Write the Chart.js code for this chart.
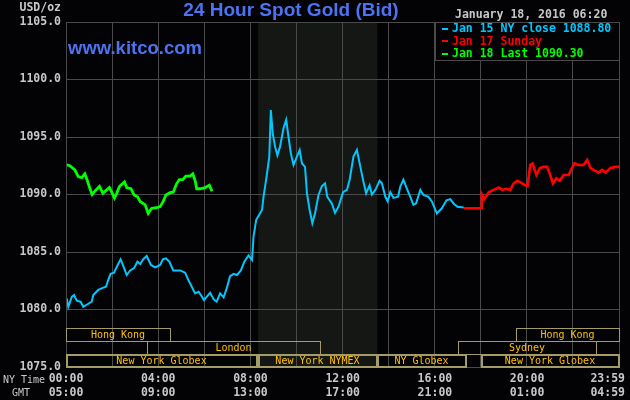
<!DOCTYPE html>
<html>
<head>
<meta charset="utf-8">
<script src="https://cdn.jsdelivr.net/npm/chart.js@4/dist/chart.umd.min.js"></script>
<style>
  html, body { margin: 0; padding: 0; background: #030305; }
  canvas { display: block; }
</style>
</head>
<body>
<canvas id="gold" width="630" height="400"></canvas>
<script>
// minutes after midnight NY time, price in USD/oz
const cyanTimes = [2, 6, 15, 21, 28, 38, 45, 58, 67, 71, 84, 97, 104, 110, 116, 125, 132, 142, 149, 158, 167, 177, 186, 193, 201, 210, 221, 232, 245, 252, 260, 269, 279, 297, 310, 318, 327, 336, 345, 351, 359, 366, 375, 384, 392, 401, 410, 417, 427, 436, 445, 455, 464, 475, 484, 488, 495, 505, 510, 514, 523, 529, 533, 538, 544, 550, 557, 566, 573, 579, 585, 592, 601, 608, 614, 622, 627, 634, 641, 648, 657, 666, 674, 680, 692, 700, 709, 721, 731, 738, 748, 757, 766, 774, 781, 790, 796, 805, 816, 822, 831, 837, 844, 852, 864, 870, 878, 887, 896, 904, 911, 922, 930, 943, 952, 965, 978, 990, 1000, 1009, 1019, 1035];
const cyanPrices = [1080.97, 1080.24, 1081.1, 1081.26, 1080.77, 1080.68, 1080.24, 1080.5, 1080.68, 1081.26, 1081.7, 1081.9, 1081.98, 1082.57, 1083.1, 1083.2, 1083.7, 1084.36, 1083.8, 1083.0, 1083.4, 1083.6, 1084.16, 1083.96, 1084.37, 1084.65, 1083.87, 1083.67, 1083.87, 1084.37, 1084.45, 1084.16, 1083.4, 1083.4, 1083.2, 1082.57, 1082.0, 1081.4, 1081.55, 1081.26, 1080.83, 1081.1, 1081.46, 1080.9, 1080.68, 1081.4, 1081.06, 1081.7, 1082.9, 1083.1, 1083.0, 1083.4, 1084.16, 1084.7, 1084.3, 1086.33, 1087.8, 1088.36, 1088.65, 1089.8, 1091.8, 1093.3, 1097.35, 1095.3, 1094.16, 1093.4, 1094.16, 1095.76, 1096.5, 1095.0, 1093.6, 1092.57, 1093.3, 1093.87, 1092.7, 1092.4, 1090.1, 1088.65, 1087.5, 1088.36, 1089.96, 1090.74, 1090.97, 1089.8, 1089.2, 1088.4, 1088.94, 1090.2, 1090.4, 1091.26, 1093.3, 1093.87, 1092.4, 1091.1, 1090.1, 1090.8, 1090.0, 1090.4, 1091.2, 1090.97, 1089.8, 1089.4, 1090.2, 1089.7, 1089.8, 1090.7, 1091.3, 1090.5, 1089.8, 1089.1, 1089.24, 1090.4, 1089.96, 1089.8, 1089.4, 1088.36, 1088.8, 1089.5, 1089.6, 1089.2, 1088.94, 1088.87];

const redTimes = [1035, 1081, 1082, 1088, 1100, 1113, 1126, 1135, 1146, 1156, 1165, 1175, 1187, 1195, 1201, 1208, 1214, 1224, 1233, 1243, 1252, 1259, 1267, 1276, 1285, 1295, 1308, 1314, 1323, 1334, 1347, 1356, 1365, 1375, 1386, 1395, 1404, 1417, 1430, 1439];
const redPrices = [1088.8, 1088.8, 1090.0, 1089.6, 1090.2, 1090.4, 1090.6, 1090.4, 1090.5, 1090.4, 1090.97, 1091.2, 1090.97, 1090.8, 1090.74, 1092.57, 1092.7, 1091.7, 1092.3, 1092.4, 1092.4, 1091.8, 1090.97, 1091.4, 1091.2, 1091.7, 1091.7, 1092.13, 1092.7, 1092.57, 1092.57, 1093.0, 1092.3, 1092.1, 1091.9, 1092.13, 1091.9, 1092.3, 1092.4, 1092.4];

const greenTimes = [2, 10, 23, 32, 41, 49, 55, 62, 68, 78, 87, 96, 106, 113, 119, 126, 132, 139, 152, 158, 169, 177, 186, 193, 206, 214, 223, 236, 245, 253, 260, 271, 279, 288, 295, 304, 312, 323, 330, 336, 340, 349, 362, 373, 380];
const greenPrices = [1092.57, 1092.5, 1092.13, 1091.55, 1091.46, 1091.8, 1091.26, 1090.54, 1090.0, 1090.4, 1090.7, 1090.1, 1090.4, 1090.6, 1090.2, 1089.7, 1090.1, 1090.7, 1091.1, 1090.6, 1090.5, 1089.96, 1089.8, 1089.4, 1089.1, 1088.36, 1088.8, 1088.85, 1088.94, 1089.4, 1089.96, 1090.16, 1090.2, 1090.95, 1091.3, 1091.3, 1091.6, 1091.6, 1091.8, 1091.2, 1090.5, 1090.5, 1090.6, 1090.8, 1090.3];

const seriesLabels = ['Jan 15 NY close 1088.80', 'Jan 17 Sunday', 'Jan 18 Last 1090.30'];

// trading sessions (minutes, NY time) and the row they sit in
const sessionNames = ['Hong Kong', 'London', 'New York Globex', 'New York NYMEX', 'NY Globex', 'Sydney', 'New York Globex', 'Hong Kong'];
const sessionStart = [0, 210, 0, 500, 810, 1020, 1080, 1170];
const sessionEnd = [270, 660, 497, 810, 1042, 1380, 1439, 1439];
const sessionRow = [0, 1, 2, 2, 2, 1, 2, 0];

const nymexStart = 500, nymexEnd = 810;

const tickTimes = [0, 240, 480, 720, 960, 1200, 1439];
const nyTimeLabels = ['00:00', '04:00', '08:00', '12:00', '16:00', '20:00', '23:59'];
const gmtLabels = ['05:00', '09:00', '13:00', '17:00', '21:00', '01:00', '04:59'];

const stampText = 'January 18, 2016 06:20';

const MONO = 'bold 11.5px "DejaVu Sans Mono", monospace';
const MONO_SMALL = '10px "DejaVu Sans Mono", monospace';
const GRID = '#4a4a4a';

function pts(ts, vs) {
    return ts.map((t, i) => ({ x: t, y: vs[i] }));
}

const kitcoDeco = {
    id: 'kitcoDeco',
    beforeDraw(chart) {
        const ctx = chart.ctx, a = chart.chartArea, xs = chart.scales.x;
        ctx.save();
        ctx.fillStyle = '#030305';
        ctx.fillRect(0, 0, chart.width, chart.height);
        const x0 = xs.getPixelForValue(nymexStart), x1 = xs.getPixelForValue(nymexEnd);
        ctx.fillStyle = '#141714';
        ctx.fillRect(x0, a.top, x1 - x0, a.bottom - a.top);
        ctx.restore();
    },
    afterDraw(chart) {
        const ctx = chart.ctx, a = chart.chartArea, xs = chart.scales.x;
        ctx.save();

        // plot frame
        ctx.strokeStyle = GRID;
        ctx.lineWidth = 1;
        ctx.strokeRect(Math.round(a.left) + 0.5, Math.round(a.top) + 0.5, Math.round(a.right - a.left), Math.round(a.bottom - a.top));

        // sessions
        const rowH = 13;
        ctx.font = MONO_SMALL;
        ctx.textAlign = 'center';
        ctx.textBaseline = 'middle';
        sessionNames.forEach((name, i) => {
            const r = sessionRow[i];
            const top = a.bottom - rowH * (3 - r);
            const l = Math.round(xs.getPixelForValue(sessionStart[i]));
            const rr = Math.round(xs.getPixelForValue(sessionEnd[i]));
            ctx.strokeStyle = '#a39c68';
            ctx.lineWidth = r === 2 ? 2 : 1;
            const off = r === 2 ? 1 : 0.5;
            ctx.strokeRect(l + off, Math.round(top) + off, rr - l - off * 2 + 1, rowH - off * 2 + 1);
            ctx.fillStyle = '#ffc000';
            ctx.fillText(name, (l + rr) / 2, top + rowH / 2 + 1);
        });

        // x labels, two rows
        ctx.font = MONO;
        ctx.fillStyle = '#c8c8c8';
        tickTimes.forEach((t, i) => {
            const w = ctx.measureText(nyTimeLabels[i]).width;
            const px = Math.min(xs.getPixelForValue(t), chart.width - w / 2 - 5);
            ctx.fillText(nyTimeLabels[i], px, 379);
            ctx.fillText(gmtLabels[i], px, 393);
        });
        ctx.font = MONO_SMALL;
        ctx.textAlign = 'left';
        ctx.fillText('NY Time', 3, 380);
        ctx.fillText('GMT', 12, 393);

        ctx.font = MONO;
        ctx.textAlign = 'right';
        ctx.fillText('USD/oz', 61, 8);

        // time stamp
        ctx.textAlign = 'left';
        ctx.fillText(stampText, 455, 15);

        // legend box
        ctx.fillStyle = '#030305';
        ctx.fillRect(436, 23, 183, 38);
        ctx.strokeStyle = GRID;
        ctx.lineWidth = 1;
        ctx.strokeRect(435.5, 22.5, 184, 38);
        chart.data.datasets.forEach((ds, i) => {
            const y = 29 + i * 12.3;
            ctx.fillStyle = ds.borderColor;
            ctx.fillRect(442, Math.round(y) - 1, 6, 2);
            ctx.fillText(ds.label, 452, y + 0.5);
        });

        // title + site
        ctx.fillStyle = '#4d73f2';
        ctx.textAlign = 'center';
        ctx.font = 'bold 19px "Liberation Sans", Arial, sans-serif';
        ctx.fillText('24 Hour Spot Gold (Bid)', 291, 11);
        ctx.textAlign = 'left';
        ctx.font = 'bold 18.5px "Liberation Sans", Arial, sans-serif';
        ctx.fillText('www.kitco.com', 68, 49);

        ctx.restore();
    }
};

new Chart(document.getElementById('gold'), {
    type: 'line',
    data: {
        datasets: [
            { label: seriesLabels[0], data: pts(cyanTimes, cyanPrices), borderColor: '#00c8ff', borderWidth: 2 },
            { label: seriesLabels[1], data: pts(redTimes, redPrices), borderColor: '#ff0000', borderWidth: 2.6 },
            { label: seriesLabels[2], data: pts(greenTimes, greenPrices), borderColor: '#00ff00', borderWidth: 2.8 }
        ]
    },
    options: {
        responsive: false,
        animation: false,
        events: [],
        elements: { point: { radius: 0 }, line: { tension: 0 } },
        layout: { padding: { top: 22, right: 11, left: 0, bottom: 0 } },
        plugins: { legend: { display: false }, tooltip: { enabled: false } },
        scales: {
            x: {
                type: 'linear',
                min: 0, max: 1439,
                ticks: { display: false, stepSize: 120 },
                grid: { color: GRID, drawTicks: false },
                border: { color: GRID },
                afterFit: s => { s.height = 33; }
            },
            y: {
                min: 1075, max: 1105,
                ticks: {
                    stepSize: 5, padding: 5,
                    color: '#c8c8c8',
                    font: { family: '"DejaVu Sans Mono", monospace', size: 11.5, weight: 'bold' },
                    callback: v => v.toFixed(1)
                },
                grid: { color: GRID, drawTicks: false },
                border: { color: GRID },
                afterFit: s => { s.width = 66; }
            }
        }
    },
    plugins: [kitcoDeco]
});
</script>
</body>
</html>
